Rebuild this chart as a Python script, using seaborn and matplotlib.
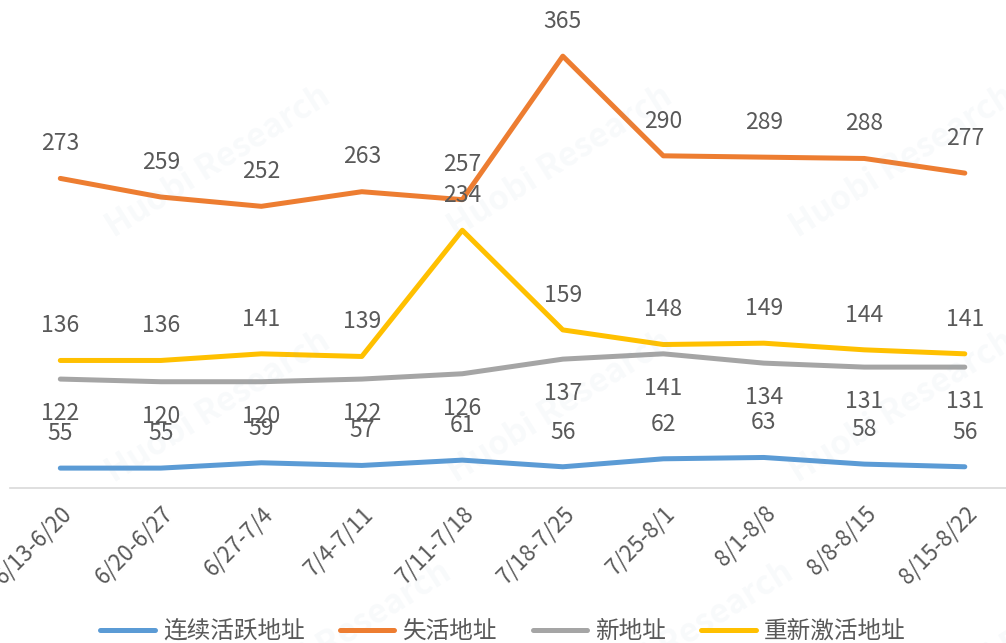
import pandas as pd
import seaborn as sns
import matplotlib.pyplot as plt

weeks = ["6/13-6/20", "6/20-6/27", "6/27-7/4", "7/4-7/11", "7/11-7/18",
         "7/18-7/25", "7/25-8/1", "8/1-8/8", "8/8-8/15", "8/15-8/22"]
active = [55, 55, 59, 57, 61, 56, 62, 63, 58, 56]
lost = [273, 259, 252, 263, 257, 365, 290, 289, 288, 277]
new = [122, 120, 120, 122, 126, 137, 141, 134, 131, 131]
reactivated = [136, 136, 141, 139, 234, 159, 148, 149, 144, 141]

names = ["连续活跃地址", "失活地址", "新地址", "重新激活地址"]
colors = ["#5B9BD5", "#ED7D31", "#A5A5A5", "#FFC000"]
series = [active, lost, new, reactivated]
# gray labels sit under the line, the rest above
offsets = [25, 25, -25, 25]

rows = []
for name, vals in zip(names, series):
    for i, v in enumerate(vals):
        rows.append({"week": i, "count": v, "kind": name})
df = pd.DataFrame(rows)

sns.set_style("white")
plt.rcParams['font.family'] = ['Noto Sans CJK SC', 'DejaVu Sans']

fig = plt.figure(figsize=(10.06, 6.43), dpi=100)
ax = fig.add_axes([0.01, 0.241, 0.999, 0.744])

# faint watermark
for wx, wy in [(0.1, 0.62), (0.44, 0.62), (0.78, 0.62), (0.1, 0.24), (0.44, 0.24), (0.78, 0.24), (0.22, -0.12), (0.56, -0.12), (0.9, -0.12)]:
    fig.text(wx, wy, "Huobi Research", fontsize=24, color="#8fa6c0", alpha=0.06,
             rotation=32, ha="left", va="bottom", fontweight="bold")

sns.lineplot(data=df, x="week", y="count", hue="kind", hue_order=names,
             palette=colors, linewidth=3.6, ax=ax, legend=False, sort=False)

for vals, off in zip(series, offsets):
    for i, v in enumerate(vals):
        ax.annotate(str(v), (i, v), xytext=(0, off), textcoords="offset points",
                    ha="center", va="center", fontsize=16.5, color="#595959")

ax.set_xlim(-0.5, 9.5)
ax.set_ylim(40, 400)
ax.set_xticks(range(len(weeks)))
ax.set_xticklabels(weeks, rotation=45, ha="right", rotation_mode="anchor",
                   fontsize=16, color="#595959")
ax.tick_params(axis="x", length=0, pad=10)
ax.set_yticks([])
ax.set_xlabel("")
ax.set_ylabel("")
for s in ["top", "left", "right"]:
    ax.spines[s].set_visible(False)
ax.spines["bottom"].set_color("#D9D9D9")
ax.spines["bottom"].set_linewidth(1.2)

handles = [plt.Line2D([], [], color=c, linewidth=3.6) for c in colors]
fig.legend(handles, names, loc="lower center", bbox_to_anchor=(0.5, -0.033),
           ncol=4, frameon=False, fontsize=17, handlelength=2.3,
           handletextpad=0.35, columnspacing=1.5, labelcolor="#595959")

fig.savefig("out.png", dpi=100)
